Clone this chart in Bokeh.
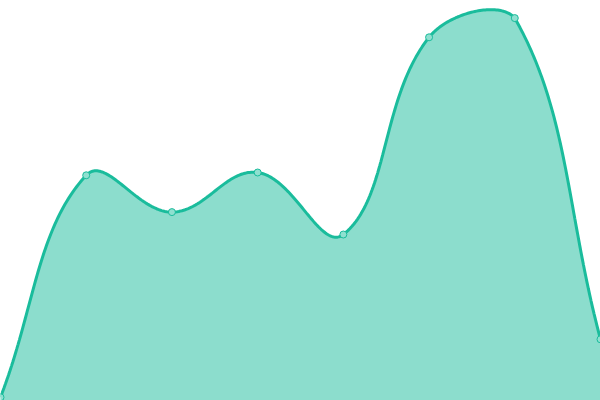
import numpy as np
from bokeh.plotting import figure
from bokeh.embed import file_html
from bokeh.resources import INLINE

# Data
labels = ["A", "B", "C", "D", "E", "F", "G", "H"]
values = [0.8, 56.3, 47.1, 57.0, 41.5, 90.8, 95.6, 15.3]

W, H = 600, 400
X_MIN, X_MAX = 0, len(values) - 1
Y_MIN, Y_MAX = 0, 100
TENSION = 0.4
LINE = "#1abc9c"
POINT_FILL = "#8fe0d0"

xs = np.arange(len(values), dtype=float)
ys = np.array(values, dtype=float)

# pixel space (Chart.js-like cardinal spline)
px = (xs - X_MIN) / (X_MAX - X_MIN) * W
py = (Y_MAX - ys) / (Y_MAX - Y_MIN) * H
n = len(px)
cp_prev = []
cp_next = []
for i in range(n):
    p0 = (px[max(i - 1, 0)], py[max(i - 1, 0)])
    p1 = (px[i], py[i])
    p2 = (px[min(i + 1, n - 1)], py[min(i + 1, n - 1)])
    d01 = np.hypot(p1[0] - p0[0], p1[1] - p0[1])
    d12 = np.hypot(p2[0] - p1[0], p2[1] - p1[1])
    s = d01 + d12
    s01 = d01 / s if s else 0
    s12 = d12 / s if s else 0
    fa, fb = TENSION * s01, TENSION * s12
    cpx = (p1[0] - fa * (p2[0] - p0[0]), p1[1] - fa * (p2[1] - p0[1]))
    cnx = (p1[0] + fb * (p2[0] - p0[0]), p1[1] + fb * (p2[1] - p0[1]))
    cap = lambda c: (min(max(c[0], 0), W), min(max(c[1], 0), H))
    cp_prev.append(cap(cpx))
    cp_next.append(cap(cnx))

cx, cy = [], []
t = np.linspace(0, 1, 60)
for i in range(n - 1):
    P0 = np.array([px[i], py[i]])
    P1 = np.array(cp_next[i])
    P2 = np.array(cp_prev[i + 1])
    P3 = np.array([px[i + 1], py[i + 1]])
    for tt in (t if i == 0 else t[1:]):
        b = ((1 - tt) ** 3) * P0 + 3 * ((1 - tt) ** 2) * tt * P1 + 3 * (1 - tt) * tt ** 2 * P2 + tt ** 3 * P3
        cx.append(b[0])
        cy.append(b[1])

curve_x = np.array(cx) / W * (X_MAX - X_MIN) + X_MIN
curve_y = Y_MAX - np.array(cy) / H * (Y_MAX - Y_MIN)

p = figure(width=W, height=H, x_range=(X_MIN, X_MAX), y_range=(Y_MIN, Y_MAX),
           output_backend="svg", toolbar_location=None, min_border=0)
p.axis.visible = False
p.grid.visible = False
p.outline_line_color = None
p.background_fill_color = "white"
p.border_fill_color = "white"

p.varea(x=curve_x, y1=np.full_like(curve_y, Y_MIN), y2=curve_y, fill_color=LINE, fill_alpha=0.5)
p.line(curve_x, curve_y, line_color=LINE, line_width=3)
p.scatter(xs, ys, size=7, fill_color=POINT_FILL, line_color=LINE, line_width=1)

open("out.html", "w").write(file_html(p, INLINE))
